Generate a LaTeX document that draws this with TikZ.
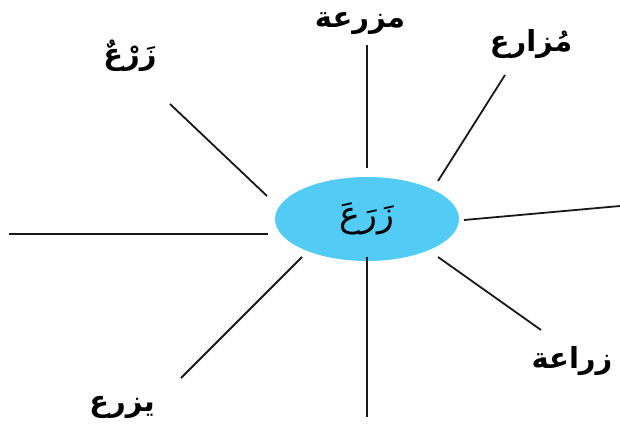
\documentclass[tikz,border=0pt]{standalone}
\usepackage{fontspec}
\usepackage{tikz}
\usetikzlibrary{shapes.geometric}
\usetikzlibrary{positioning}
\usetikzlibrary{calc}
\newfontfamily\arabicfont[Script=Arabic]{DejaVu Sans}
\TeXXeTstate=1
\definecolor{skyfill}{HTML}{52CBF5}

\begin{document}
\begin{tikzpicture}[x=1pt, y=-1pt, every node/.style={font=\arabicfont\bfseries\fontsize{29}{33}\selectfont, inner sep=0pt}, thin line/.style={line width=1.8pt, draw=black!90}, thick line/.style={line width=2.6pt, draw=black!90}]
        \useasboundingbox (0,0) rectangle (620,428);

        % Draw the central word
        \node[ellipse, fill=skyfill, minimum width=184, minimum height=84, font=\arabicfont\fontsize{35}{39}\selectfont] (C) at (367,219) {\beginR زَرَعَ\endR};

        % Define the end points of the rays
        \coordinate (A1) at (267,196);  \coordinate (B1) at (170,104);
        \coordinate (A2) at (367,168);  \coordinate (B2) at (367,45);
        \coordinate (A3) at (438,181);  \coordinate (B3) at (505,75);
        \coordinate (A4) at (464,220);  \coordinate (B4) at (620,206);
        \coordinate (A5) at (268,234);  \coordinate (B5) at (9,234);
        \coordinate (A6) at (302,257);  \coordinate (B6) at (181,378);
        \coordinate (A7) at (367,257);  \coordinate (B7) at (367,417);
        \coordinate (A8) at (438,257);  \coordinate (B8) at (541,330);

        % Draw the rays
        \draw[thin line] (A1) -- (B1);
        \draw[thick line] (A2) -- (B2);
        \draw[thin line] (A3) -- (B3);
        \draw[thin line] (A4) -- (B4);
        \draw[thick line] (A5) -- (B5);
        \draw[thin line] (A6) -- (B6);
        \draw[thick line] (A7) -- (B7);
        \draw[thin line] (A8) -- (B8);

        % Draw the derived words
        \node (W1) at (130,56) {\beginR زَرْعٌ\endR};
        \node (W2) at (360,23) {\beginR مزرعة\endR};
        \node (W3) at (531,44) {\beginR مُزارع\endR};
        \node (W5) at (572,361) {\beginR زراعة\endR};
        \node (W6) at (122,407) {\beginR يزرع\endR};
      \end{tikzpicture}
\end{document}
